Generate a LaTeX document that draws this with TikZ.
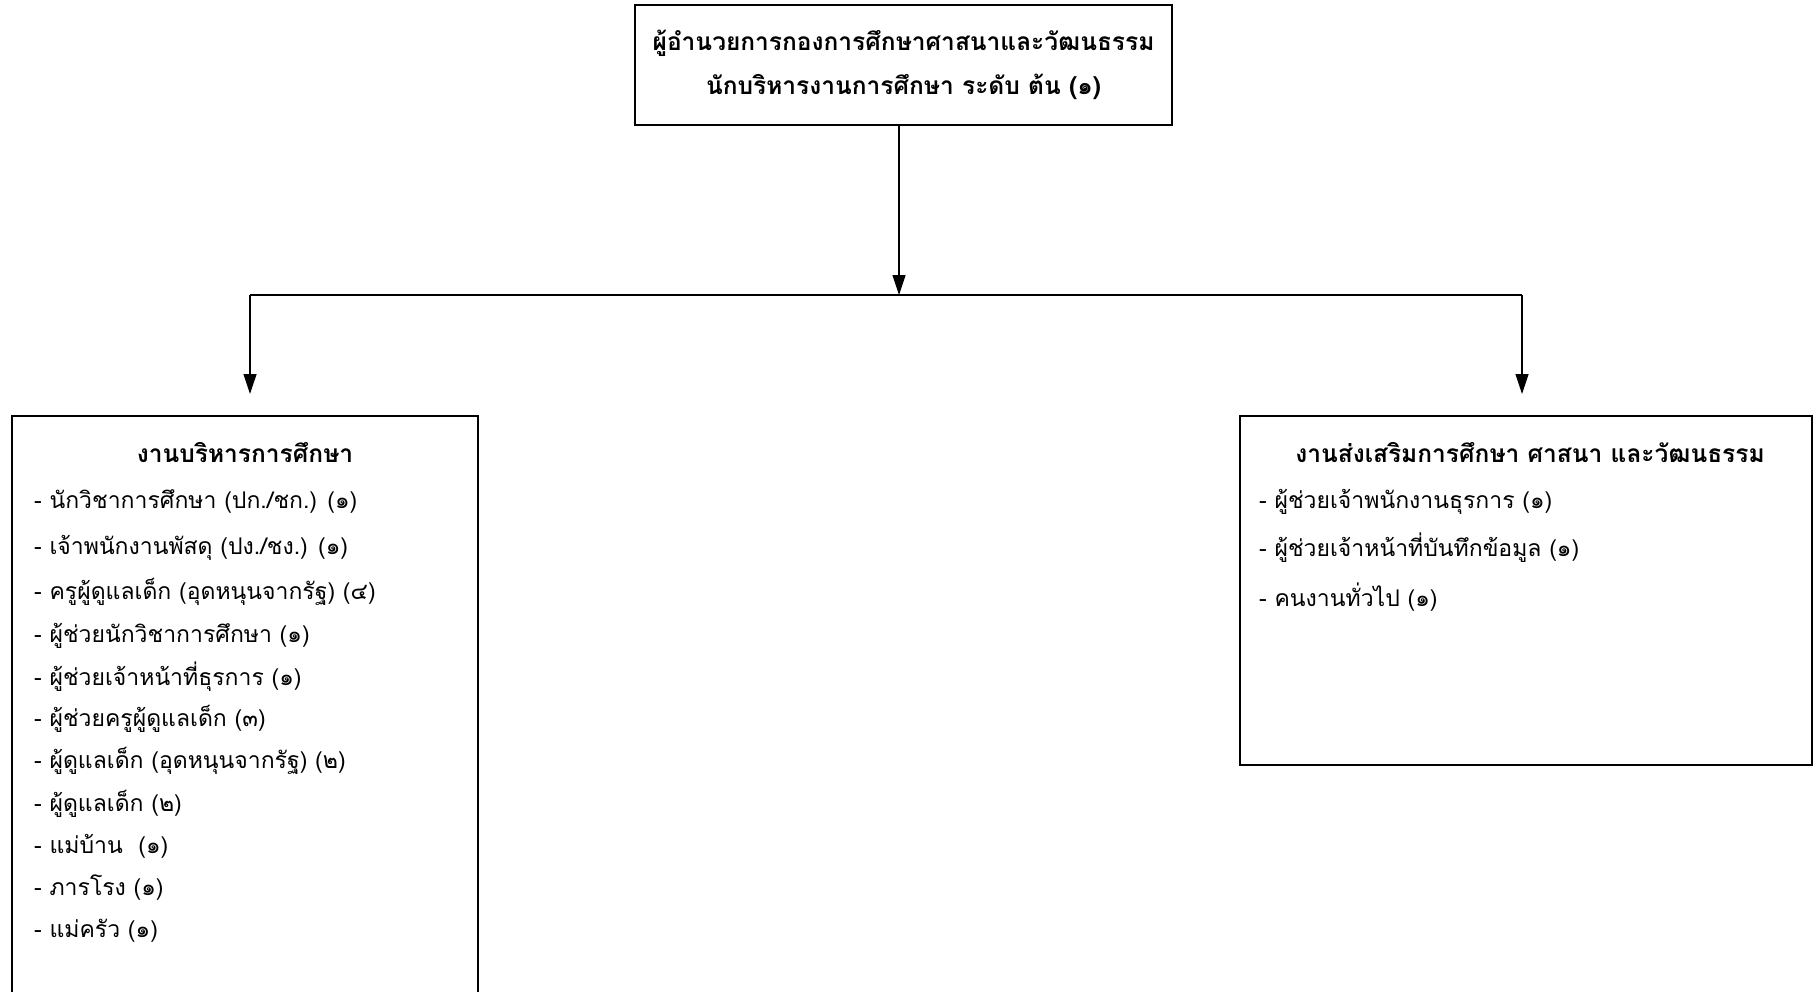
\documentclass[tikz,border=0pt]{standalone}
\usepackage{fontspec}
\setmainfont[Script=Thai]{Loma}
\usetikzlibrary{positioning, arrows.meta}

\begin{document}
\begin{tikzpicture}[
    x=1pt, y=-1pt,
    >={Triangle[length=20pt, width=13pt]},
    unitbox/.style={rectangle, draw=black, line width=1.6pt, inner sep=0pt},
    headtext/.style={font=\fontsize{24.5}{30}\selectfont\bfseries, inner sep=0pt},
    itemtext/.style={font=\fontsize{23}{30}\selectfont, anchor=base west, inner sep=0pt},
    link/.style={line width=1.2pt},
]
\useasboundingbox (0,0) rectangle (1814,991);

% ══════════════════════════════════════════════
% Director box
% ══════════════════════════════════════════════
\node[unitbox, minimum width=537pt, minimum height=120pt] at (903.5,65) (chief) {};
\node[headtext, align=center] at (chief.center) (chieftext)
    {ผู้อำนวยการกองการศึกษาศาสนาและวัฒนธรรม\\[14pt]นักบริหารงานการศึกษา ระดับ ต้น (๑)};

% ══════════════════════════════════════════════
% Left unit: education administration
% ══════════════════════════════════════════════
\node[unitbox, minimum width=466pt, minimum height=594pt] at (245,713) (admin) {};
\node[headtext, anchor=base] at (245,462) (admintitle) {งานบริหารการศึกษา};
\foreach \y/\txt [count=\i] in {
    508/{- นักวิชาการศึกษา (ปก./ชก.) (๑)},
    554/{- เจ้าพนักงานพัสดุ (ปง./ชง.) (๑)},
    599/{- ครูผู้ดูแลเด็ก (อุดหนุนจากรัฐ) (๔)},
    642/{- ผู้ช่วยนักวิชาการศึกษา (๑)},
    685/{- ผู้ช่วยเจ้าหน้าที่ธุรการ (๑)},
    726/{- ผู้ช่วยครูผู้ดูแลเด็ก (๓)},
    768/{- ผู้ดูแลเด็ก (อุดหนุนจากรัฐ) (๒)},
    811/{- ผู้ดูแลเด็ก (๒)},
    853/{- แม่บ้าน~~(๑)},
    895/{- ภารโรง (๑)},
    937/{- แม่ครัว (๑)}}
    \node[itemtext] at (34,\y) (adminitem\i) {\txt};

% ══════════════════════════════════════════════
% Right unit: promotion of education, religion and culture
% ══════════════════════════════════════════════
\node[unitbox, minimum width=572pt, minimum height=349pt] at (1526,590.5) (promo) {};
\node[headtext, anchor=base] at (1530,462) (promotitle) {งานส่งเสริมการศึกษา ศาสนา และวัฒนธรรม};
\foreach \y/\txt [count=\i] in {
    508/{- ผู้ช่วยเจ้าพนักงานธุรการ (๑)},
    556/{- ผู้ช่วยเจ้าหน้าที่บันทึกข้อมูล (๑)},
    606/{- คนงานทั่วไป (๑)}}
    \node[itemtext] at (1259,\y) (promoitem\i) {\txt};

% ══════════════════════════════════════════════
% Connectors
% ══════════════════════════════════════════════
\coordinate (split) at (899,295);
\coordinate (leftdrop) at (250,394);
\coordinate (rightdrop) at (1522,394);
\draw[->, link] (chief.south -| split) -- (split);
\draw[line width=2pt] (split -| leftdrop) -- (split -| rightdrop);
\draw[->, link] (split -| leftdrop) -- (leftdrop);
\draw[->, link] (split -| rightdrop) -- (rightdrop);

\end{tikzpicture}
\end{document}
